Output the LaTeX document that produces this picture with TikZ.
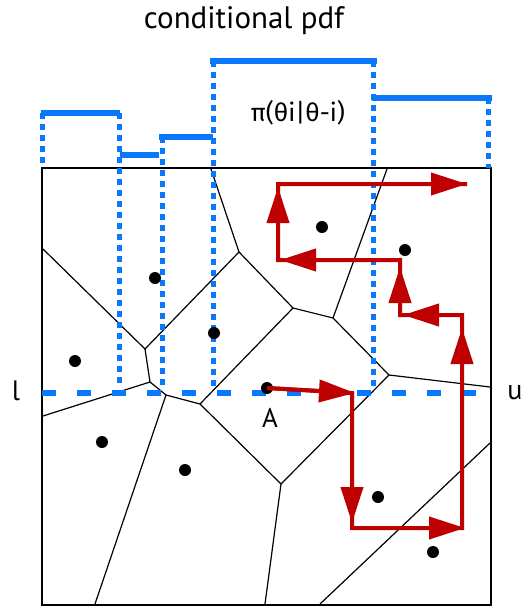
\documentclass[tikz,border=0pt]{standalone}
\usepackage{fontspec}
\setmainfont{PT Sans}
\newfontfamily\greekfont{Fira Sans}
\usetikzlibrary{arrows.meta}
\definecolor{pdfblue}{RGB}{10,120,250}
\definecolor{walkred}{RGB}{190,0,0}
\tikzset{
  bar/.style={pdfblue,line width=6pt},
  dotv/.style={pdfblue,line width=5pt,dash pattern=on 6pt off 5pt},
  dashh/.style={pdfblue,line width=6pt,dash pattern=on 14pt off 21pt},
  edge/.style={black,line width=1.2pt},
  site/.style={circle,fill=black,inner sep=0pt,minimum size=12pt},
  walk/.style={walkred,line width=4pt},
  walkarrow/.style={walkred,line width=4pt,-{Triangle[length=36pt,width=22pt]}},
  lab/.style={inner sep=0pt,font=\fontsize{28}{32}\selectfont}
}
\begin{document}
\begin{tikzpicture}[x=1pt,y=-1pt]
\useasboundingbox (0,0) rectangle (525,606);
% title
\node[lab,font=\fontsize{31}{36}\selectfont] (title) at (244,21) {conditional pdf};
\node[lab,font=\greekfont\fontsize{25}{29}\selectfont] (pil) at (298,113) {π(θi|θ-i)};
% box
\draw[black,line width=1.5pt] (42,168) rectangle (491,605);
% voronoi
\coordinate (V1) at (145,349);
\coordinate (V2) at (239,252);
\coordinate (V3) at (293,308);
\coordinate (V4) at (333,318);
\coordinate (V5) at (389,375);
\coordinate (V6) at (150,382);
\coordinate (V7) at (166,395);
\coordinate (V8) at (200,404);
\coordinate (V9) at (281,484);
\draw[edge] (43,249) -- (V1) -- (V2) -- (211,169);
\draw[edge] (V2) -- (V3) -- (V4) -- (387,169);
\draw[edge] (V4) -- (V5) -- (490,387);
\draw[edge] (V1) -- (V6) -- (43,416);
\draw[edge] (V6) -- (V7) -- (V8) -- (V3);
\draw[edge] (V7) -- (95,604);
\draw[edge] (V8) -- (V9) -- (265,604);
\draw[edge] (V9) -- (V5);
\draw[edge] (320,604) -- (490,443);
% histogram
\draw[bar] (41,113) -- (120,113);
\draw[bar] (120,155) -- (159,155);
\draw[bar] (159,137) -- (213,137);
\draw[bar] (210,61) -- (377,61);
\draw[bar] (372,98) -- (492,98);
\draw[dotv] (42,113) -- (42,168);
\draw[dotv] (119,113) -- (119,386);
\draw[dotv] (162,137) -- (162,386);
\draw[dotv] (213,61) -- (213,386);
\draw[dotv] (373,61) -- (373,386);
\draw[dotv] (488,98) -- (488,168);
\draw[dashh] (42,393) -- (491,393);
\node[lab] (l) at (16,391) {l};
\node[lab] (u) at (515,393) {u};
% sites
\foreach \n/\p in {s1/{(322,227)},s2/{(405,250)},s3/{(155,278)},s4/{(214,333)},s5/{(75,361)},s7/{(102,442)},s8/{(185,470)},s9/{(378,497)},s10/{(433,552)}}
  \node[site] (\n) at \p {};
\node[site] (A) at (267,388) {};
\node[lab,font=\fontsize{27}{30}\selectfont] (Alab) at (270,418) {A};
% random walk
\coordinate (c1) at (352,393);
\coordinate (c2) at (352,528);
\coordinate (c3) at (462,528);
\coordinate (c4) at (462,315);
\coordinate (c5) at (400,315);
\coordinate (c6) at (400,260);
\coordinate (c7) at (278,260);
\coordinate (c8) at (278,184);
\coordinate (c9) at (467,184);
\draw[walk,line join=miter] (A.center) -- (c1) -- (c2) -- (c3) -- (c4) -- (c5) -- (c6) -- (c7) -- (c8) -- (c9);
\draw[walkarrow] (A.center) -- ([xshift=3pt]c1);
\draw[walkarrow,shorten >=5pt] (c1) -- (c2);
\draw[walkarrow,shorten >=-3pt] (c2) -- (c3);
\draw[walkarrow,shorten >=13pt] (c3) -- (c4);
\draw[walkarrow,shorten >=3pt] (c4) -- (c5);
\draw[walkarrow,shorten >=7pt] (c5) -- (c6);
\draw[walkarrow,shorten >=2pt] (c6) -- (c7);
\draw[walkarrow,shorten >=3pt] (c7) -- (c8);
\draw[walkarrow] (c8) -- (c9);
\end{tikzpicture}
\end{document}
